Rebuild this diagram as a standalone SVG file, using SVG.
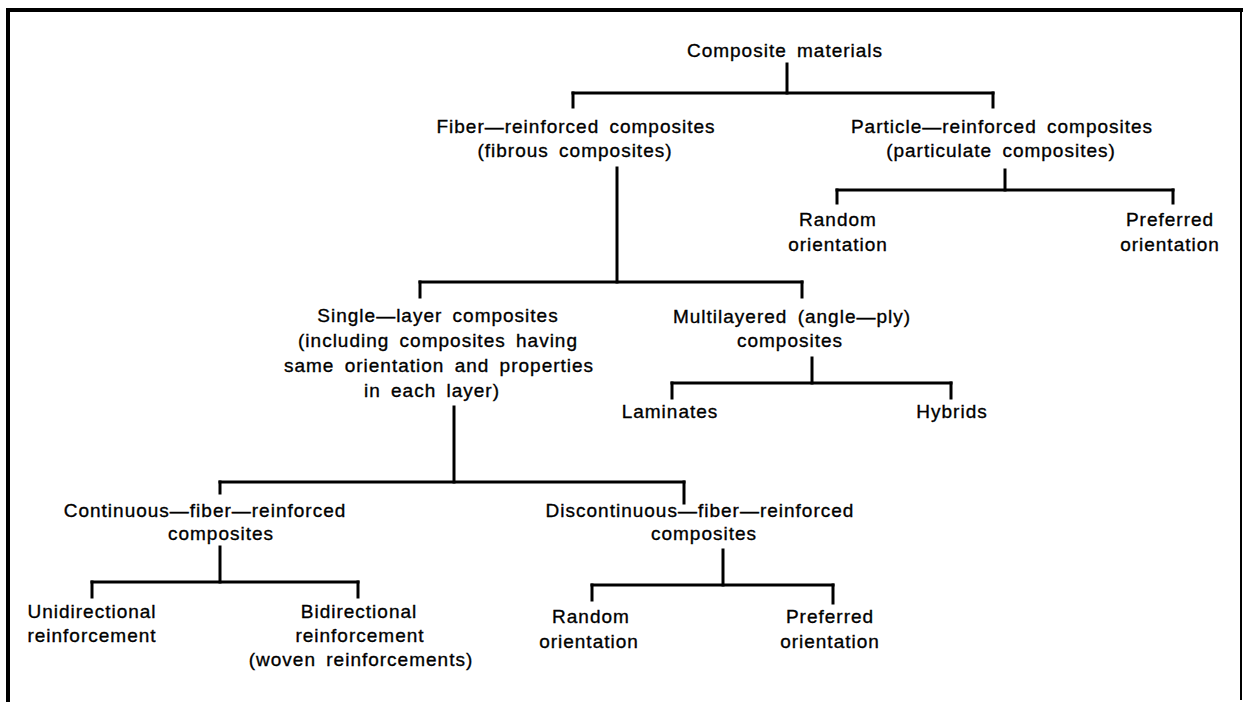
<svg xmlns="http://www.w3.org/2000/svg" width="1243" height="702" viewBox="0 0 1243 702">
<style>
text{font-family:"Liberation Sans",Arial,sans-serif;font-size:19px;letter-spacing:1px;word-spacing:4px;fill:#000;stroke:#000;stroke-width:0.35;text-anchor:middle}
.c line{stroke:#000;stroke-width:3;stroke-linecap:square}
</style>
<rect x="0" y="0" width="1243" height="702" fill="#fff"/>
<g id="frame">
<rect x="6" y="8" width="1237" height="4" fill="#000"/>
<rect x="6" y="8" width="4" height="694" fill="#000"/>
<rect x="1240" y="8" width="2" height="692" fill="#000"/>
</g>
<g class="c" id="connectors">
<line x1="787" y1="64" x2="787" y2="93"/><line x1="573" y1="93" x2="993" y2="93"/><line x1="573" y1="93" x2="573" y2="107"/><line x1="993" y1="93" x2="993" y2="107"/>
<line x1="617" y1="168" x2="617" y2="282"/><line x1="420" y1="282" x2="802" y2="282"/><line x1="420" y1="282" x2="420" y2="297"/><line x1="802" y1="282" x2="802" y2="297"/>
<line x1="1005" y1="170" x2="1005" y2="190"/><line x1="837" y1="190" x2="1173" y2="190"/><line x1="837" y1="190" x2="837" y2="203"/><line x1="1173" y1="190" x2="1173" y2="203"/>
<line x1="812" y1="358" x2="812" y2="383"/><line x1="672" y1="383" x2="951" y2="383"/><line x1="672" y1="383" x2="672" y2="398"/><line x1="951" y1="383" x2="951" y2="398"/>
<line x1="454" y1="407" x2="454" y2="482"/><line x1="220" y1="482" x2="684" y2="482"/><line x1="220" y1="482" x2="220" y2="493"/><line x1="684" y1="482" x2="684" y2="503"/>
<line x1="220" y1="547" x2="220" y2="582"/><line x1="92" y1="582" x2="358" y2="582"/><line x1="92" y1="582" x2="92" y2="597"/><line x1="358" y1="582" x2="358" y2="597"/>
<line x1="723" y1="550" x2="723" y2="585"/><line x1="592" y1="585" x2="833" y2="585"/><line x1="592" y1="585" x2="592" y2="600"/><line x1="833" y1="585" x2="833" y2="603"/>
</g>
<g id="n-root"><text x="785" y="57">Composite materials</text></g>
<g id="n-fiber"><text x="576" y="133">Fiber—reinforced composites</text><text x="575" y="157">(fibrous composites)</text></g>
<g id="n-particle"><text x="1002" y="133">Particle—reinforced composites</text><text x="1001" y="157">(particulate composites)</text></g>
<g id="n-p-random"><text x="838" y="226">Random</text><text x="838" y="251">orientation</text></g>
<g id="n-p-preferred"><text x="1170" y="226">Preferred</text><text x="1170" y="251">orientation</text></g>
<g id="n-single"><text x="438" y="322">Single—layer composites</text><text x="438" y="347">(including composites having</text><text x="439" y="372">same orientation and properties</text><text x="432" y="397">in each layer)</text></g>
<g id="n-multi"><text x="792" y="323">Multilayered (angle—ply)</text><text x="790" y="347">composites</text></g>
<g id="n-laminates"><text x="670" y="418">Laminates</text></g>
<g id="n-hybrids"><text x="952" y="418">Hybrids</text></g>
<g id="n-continuous"><text x="205" y="517">Continuous—fiber—reinforced</text><text x="221" y="540">composites</text></g>
<g id="n-discontinuous"><text x="700" y="517">Discontinuous—fiber—reinforced</text><text x="704" y="540">composites</text></g>
<g id="n-uni"><text x="92" y="618">Unidirectional</text><text x="92" y="642">reinforcement</text></g>
<g id="n-bi"><text x="359" y="618">Bidirectional</text><text x="360" y="642">reinforcement</text><text x="361" y="666">(woven reinforcements)</text></g>
<g id="n-d-random"><text x="591" y="623">Random</text><text x="589" y="648">orientation</text></g>
<g id="n-d-preferred"><text x="830" y="623">Preferred</text><text x="830" y="648">orientation</text></g>
</svg>
